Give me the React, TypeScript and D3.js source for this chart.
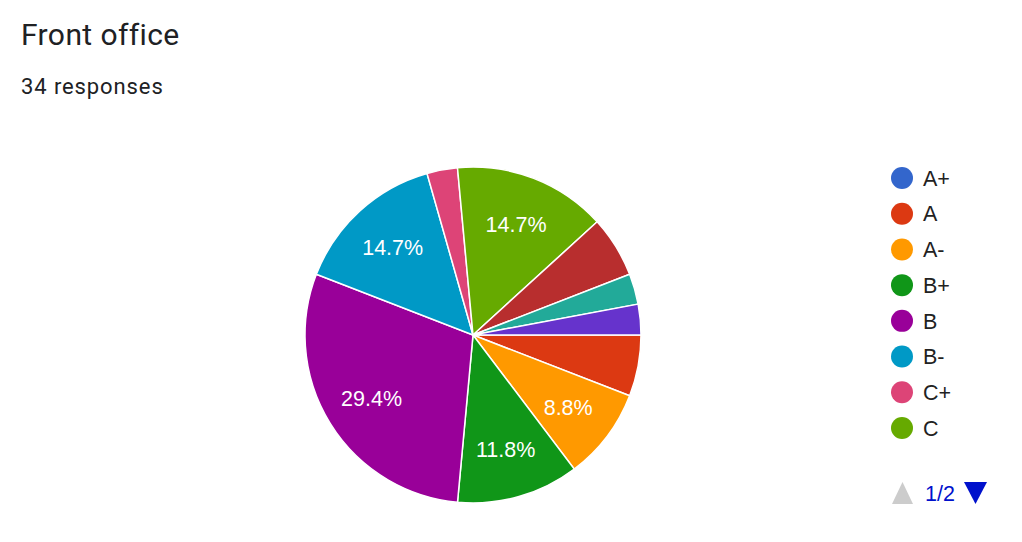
import React from "react";
import * as d3 from "d3";

const title = "Front office";
const subtitle = "34 responses";
const categories = ["A+", "A", "A-", "B+", "B", "B-", "C+", "C", "C-", "D+", "D"];
const counts = [0, 2, 3, 4, 10, 5, 1, 5, 2, 1, 1];
const colors = ["#3366cc", "#dc3912", "#ff9900", "#109618", "#990099", "#0099c6", "#dd4477", "#66aa00", "#b82e2e", "#22aa99", "#6633cc"];
const legendPageSize = 8;
const pageLabel = "1/2";

const ARIAL = "'Liberation Sans', Arial, sans-serif";
const ROBOTO = "Roboto, 'Liberation Sans', sans-serif";

export default function App() {
  const W = 1022, H = 542;
  const cx = 473, cy = 335, r = 168;
  const total = d3.sum(counts);
  const pie = d3.pie<number>().sort(null).value((d) => d).startAngle(Math.PI / 2).endAngle(Math.PI / 2 + 2 * Math.PI);
  const arcs = pie(counts);
  const arc = d3.arc<d3.PieArcDatum<number>>().innerRadius(0).outerRadius(r);
  const labelArc = d3.arc<d3.PieArcDatum<number>>().innerRadius(r * 0.71).outerRadius(r * 0.71);
  const legendY = d3.scaleLinear().domain([0, legendPageSize - 1]).range([178, 428]);
  return (
    <svg width={W} height={H} style={{ position: "absolute", left: 0, top: 0, background: "#fff" }}>
      <text x={21} y={45} fontFamily={ROBOTO} fontSize={30} letterSpacing={0.4} fill="#202124">{title}</text>
      <text x={21} y={94} fontFamily={ROBOTO} fontSize={22} letterSpacing={0.9} fill="#202124">{subtitle}</text>
      <g transform={`translate(${cx},${cy})`}>
        {arcs.map((a, i) => (a.value > 0 ? (
          <path key={i} d={arc(a) || ""} fill={colors[i]} stroke="#fff" strokeWidth={1.5} />
        ) : null))}
        {arcs.map((a, i) => {
          const frac = a.value / total;
          if (frac < 0.07) return null;
          const [x, y] = labelArc.centroid(a);
          return (
            <text key={"l" + i} x={x} y={y} dy="0.36em" textAnchor="middle" fontFamily={ARIAL} fontSize={21.5} fill="#fff">
              {(frac * 100).toFixed(1) + "%"}
            </text>
          );
        })}
      </g>
      {categories.slice(0, legendPageSize).map((c, i) => (
        <g key={"lg" + i} transform={`translate(902,${legendY(i)})`}>
          <circle r={11} fill={colors[i]} />
          <text x={21} y={0} dy="0.36em" fontFamily={ARIAL} fontSize={21.5} fill="#222">{c}</text>
        </g>
      ))}
      <path d="M892,504 L902.5,482 L913,504 Z" fill="#cccccc" />
      <text x={925} y={501} fontFamily={ARIAL} fontSize={21.5} fill="#0011cc">{pageLabel}</text>
      <path d="M964,482 L987,482 L975.5,504 Z" fill="#0011cc" />
    </svg>
  );
}
